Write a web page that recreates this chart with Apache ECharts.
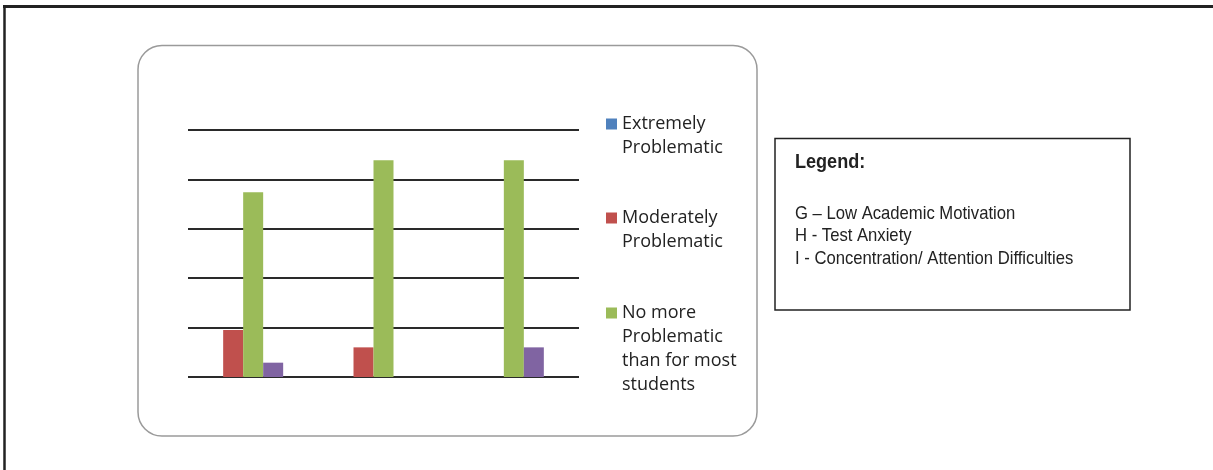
<!DOCTYPE html>
<html>
<head>
<meta charset="utf-8">
<script src="https://cdn.jsdelivr.net/npm/echarts@6/dist/echarts.min.js"></script>
<style>
html, body { margin: 0; padding: 0; background: #fff; }
#chart { width: 1213px; height: 470px; }
</style>
</head>
<body>
<div id="chart"></div>
<script>
// categories (not labelled on the axis, explained in the side box)
var categories = ['G', 'H', 'I'];

// series values
var extremely = ['-', '-', '-'];
var moderately = [9.5, 6.0, '-'];
var noMore = [37.4, 43.9, 43.9];
var series4 = [2.9, '-', 6.0];

var yTicks = [0, 10, 20, 30, 40, 50];

var seriesNames = ['Extremely Problematic', 'Moderately Problematic',
    'No more Problematic than for most students', 'Series 4'];
var legendLabels = ['Extremely\nProblematic', 'Moderately\nProblematic',
    'No more\nProblematic\nthan for most\nstudents'];
var colors = ['#4F81BD', '#C0504D', '#9BBB59', '#8064A2'];

var boxTitle = 'Legend:';
var boxLines = ['G \u2013 Low Academic Motivation', 'H - Test Anxiety',
    'I - Concentration/ Attention Difficulties'];

var myChart = echarts.init(document.getElementById('chart'), null, { renderer: 'canvas' });

// square icon sitting on the first text line of a taller legend item
function legendIcon(h) {
    return 'path://M0,0M0,6.5L11,6.5L11,17.5L0,17.5ZM11,' + h;
}

function makeLegend(i, top, lines) {
    var h = lines * 24;
    return {
        data: [seriesNames[i]],
        orient: 'vertical',
        left: 606,
        top: top,
        padding: 0,
        itemWidth: 11,
        itemHeight: h,
        icon: legendIcon(h),
        textStyle: {
            fontFamily: 'Open Sans',
            fontSize: 18,
            lineHeight: 24,
            color: '#222'
        },
        formatter: function (name) {
            return legendLabels[seriesNames.indexOf(name)];
        }
    };
}

var graphics = [
    { type: 'line', shape: { x1: 3, y1: 6.5, x2: 1213, y2: 6.5 }, style: { stroke: '#222', lineWidth: 3 } },
    { type: 'line', shape: { x1: 4.5, y1: 5, x2: 4.5, y2: 470 }, style: { stroke: '#222', lineWidth: 2.5 } },
    {
        type: 'rect', z: -1,
        shape: { x: 138, y: 45.5, width: 619, height: 390.5, r: 24 },
        style: { fill: 'none', stroke: '#9a9a9a', lineWidth: 1.5 }
    },
    {
        type: 'rect',
        shape: { x: 775, y: 138.5, width: 355, height: 171.5 },
        style: { fill: '#fff', stroke: '#222', lineWidth: 1.5 }
    },
    {
        type: 'text', x: 795, y: 162, scaleX: 0.86,
        style: { text: boxTitle, font: 'bold 21px "Liberation Sans"', fill: '#222', verticalAlign: 'middle' }
    }
];
boxLines.forEach(function (t, i) {
    graphics.push({
        type: 'text', x: 795, y: 214 + i * 22.3, scaleX: 0.9,
        style: { text: t, font: '18.5px "Liberation Sans"', fill: '#222', verticalAlign: 'middle' }
    });
});

option = {
    backgroundColor: '#fff',
    animation: false,
    color: colors,
    grid: {
        left: 188,
        right: 634,
        top: 130,
        bottom: 93
    },
    legend: [
        makeLegend(0, 112, 2),
        makeLegend(1, 206, 2),
        makeLegend(2, 301, 4)
    ],
    xAxis: {
        type: 'category',
        data: categories,
        axisLine: { show: false },
        axisTick: { show: false },
        axisLabel: { show: false }
    },
    yAxis: {
        type: 'value',
        min: yTicks[0],
        max: yTicks[yTicks.length - 1],
        interval: yTicks[1] - yTicks[0],
        axisLine: { show: false },
        axisTick: { show: false },
        axisLabel: { show: false },
        splitLine: { lineStyle: { color: '#2a2a2a', width: 2 } }
    },
    graphic: graphics,
    series: [
        { name: seriesNames[0], type: 'bar', stack: 'a', barWidth: 20, barGap: '0%', data: extremely },
        { name: seriesNames[1], type: 'bar', stack: 'a', barWidth: 20, barGap: '0%', data: moderately },
        { name: seriesNames[2], type: 'bar', barWidth: 20, barGap: '0%', data: noMore },
        { name: seriesNames[3], type: 'bar', barWidth: 20, barGap: '0%', data: series4 }
    ]
};

myChart.setOption(option);
</script>
</body>
</html>
